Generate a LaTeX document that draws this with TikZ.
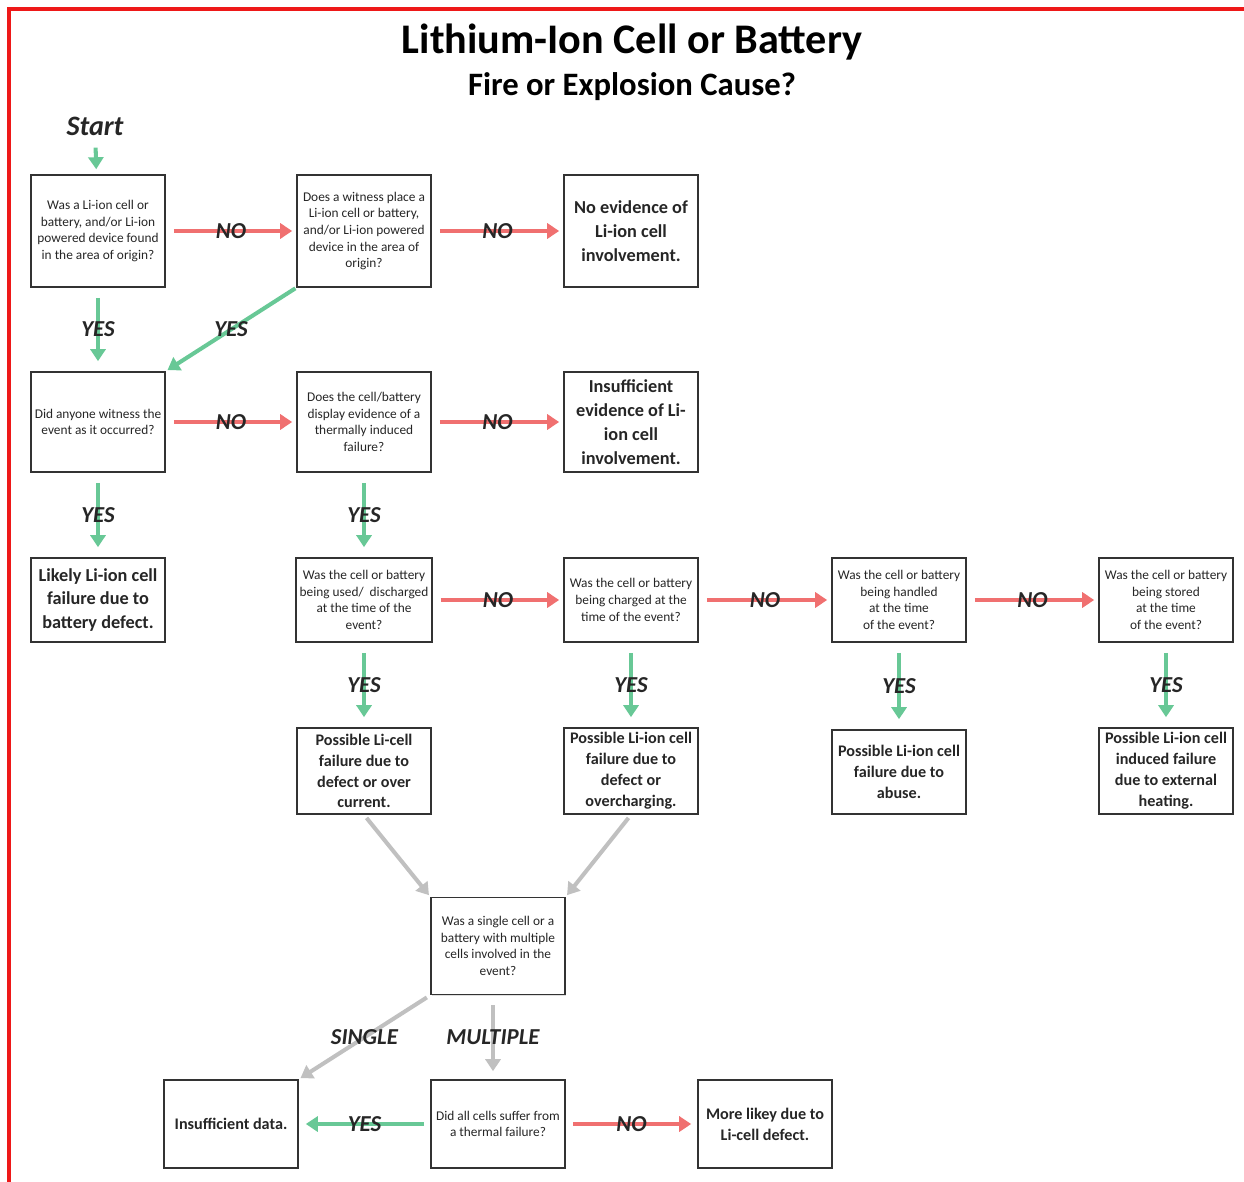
\documentclass[tikz,border=0pt]{standalone}
\usepackage{fontspec}
\setmainfont{Carlito}
\usetikzlibrary{arrows.meta,shadows}
\definecolor{noRed}{RGB}{240,112,112}
\definecolor{yesGreen}{RGB}{104,200,150}
\definecolor{linkGray}{RGB}{192,192,192}
\definecolor{frameRed}{RGB}{238,24,24}

\begin{document}
\begin{tikzpicture}[x=0.02cm,y=-0.02cm]

	\def \boxw{2.68cm}
	\tikzstyle{q-node}=[draw=black!80,line width=0.9pt,fill=white,align=center,minimum width=\boxw,inner sep=2pt,text=black!85,font=\fontsize{7.6}{9.5}\selectfont,drop shadow={opacity=0.25,shadow xshift=0.8pt,shadow yshift=-0.8pt}]
	\tikzstyle{r-node}=[q-node,font=\fontsize{9.2}{11.9}\selectfont\bfseries]
	\tikzstyle{big-r-node}=[q-node,font=\fontsize{10.4}{13.6}\selectfont\bfseries]
	\tikzstyle{annot}=[font=\fontsize{13}{13}\selectfont\bfseries\itshape,text=black!85,inner sep=0pt]
	\tikzstyle{tip}=[-{Triangle[width=0.3cm,length=0.24cm]},line width=2.3pt]
	\tikzstyle{no-arrow}=[tip,noRed,shorten <=0.16cm,shorten >=0.08cm]
	\tikzstyle{yes-arrow}=[tip,yesGreen,shorten <=0.2cm,shorten >=0.2cm]
	\tikzstyle{link-arrow}=[tip,linkGray,shorten <=0.08cm,shorten >=0.04cm]

	\useasboundingbox (0,0) rectangle (1244,1182);
	\draw[frameRed,line width=1.8pt] (9,1182) -- (9,9) -- (1244,9);

	% title
	\node[font=\fontsize{24}{28}\selectfont\bfseries] (title) at (632,42) {Lithium-Ion Cell or Battery};
	\node[font=\fontsize{18.6}{22}\selectfont\bfseries] (subtitle) at (632,87) {Fire or Explosion Cause?};
	\node[annot,font=\fontsize{16}{16}\selectfont\bfseries\itshape] (start) at (95,126) {Start};

	% first row
	\node[q-node,minimum height=2.24cm] (found) at (98,231) {Was a Li-ion cell or\\battery, and/or Li-ion\\powered device found\\in the area of origin?};
	\node[q-node,minimum height=2.24cm] (place) at (364,231) {Does a witness place a\\Li-ion cell or battery,\\and/or Li-ion powered\\device in the area of\\origin?};
	\node[big-r-node,minimum height=2.24cm] (noev) at (631,231) {No evidence of\\Li-ion cell\\involvement.};

	% second row
	\node[q-node,minimum height=2.0cm] (witness) at (98,422) {Did anyone witness the\\event as it occurred?};
	\node[q-node,minimum height=2.0cm] (thermal) at (364,422) {Does the cell/battery\\display evidence of a\\thermally induced\\failure?};
	\node[big-r-node,minimum height=2.0cm] (insuf) at (631,422) {Insufficient\\evidence of Li-\\ion cell\\involvement.};

	% third row
	\node[big-r-node,minimum height=1.68cm] (likely) at (98,600) {Likely Li-ion cell\\failure due to\\battery defect.};
	\node[q-node,minimum height=1.68cm] (used) at (364,600) {Was the cell or battery\\being used/\ \ discharged\\at the time of the\\event?};
	\node[q-node,minimum height=1.68cm] (charged) at (631,600) {Was the cell or battery\\being charged at the\\time of the event?};
	\node[q-node,minimum height=1.68cm] (handled) at (899,600) {Was the cell or battery\\being handled\\at the time\\of the event?};
	\node[q-node,minimum height=1.68cm] (stored) at (1166,600) {Was the cell or battery\\being stored\\at the time\\of the event?};

	% fourth row
	\node[r-node,minimum height=1.72cm] (usedres) at (364,771) {Possible Li-cell\\failure due to\\defect or over\\current.};
	\node[r-node,minimum height=1.72cm] (chargedres) at (631,771) {Possible Li-ion cell\\failure due to\\defect or\\overcharging.};
	\node[r-node,minimum height=1.68cm] (handledres) at (899,772) {Possible Li-ion cell\\failure due to\\abuse.};
	\node[r-node,minimum height=1.72cm] (storedres) at (1166,771) {Possible Li-ion cell\\induced failure\\due to external\\heating.};

	% bottom
	\node[q-node,minimum height=1.94cm] (cells) at (498,946) {Was a single cell or a\\battery with multiple\\cells involved in the\\event?};
	\node[r-node,minimum height=1.76cm] (nodata) at (231,1124) {Insufficient data.};
	\node[q-node,minimum height=1.76cm] (allcells) at (498,1124) {Did all cells suffer from\\a thermal failure?};
	\node[r-node,minimum height=1.76cm] (defect) at (765,1124) {More likey due to\\Li-cell defect.};

	% arrows
	\draw[yes-arrow,shorten <=0.24cm,shorten >=0.1cm] (start) -- (found);
	\draw[no-arrow] (found) -- node[annot] {NO} (place);
	\draw[no-arrow] (place) -- node[annot] {NO} (noev);
	\draw[yes-arrow] (found) -- node[annot] {YES} (witness);
	\draw[yes-arrow,shorten <=0.02cm,shorten >=0.04cm] (place.south west) -- node[annot] {YES} (witness.north east);
	\draw[no-arrow] (witness) -- node[annot] {NO} (thermal);
	\draw[no-arrow] (thermal) -- node[annot] {NO} (insuf);
	\draw[yes-arrow] (witness) -- node[annot] {YES} (likely);
	\draw[yes-arrow] (thermal) -- node[annot] {YES} (used);
	\draw[no-arrow] (used) -- node[annot] {NO} (charged);
	\draw[no-arrow] (charged) -- node[annot] {NO} (handled);
	\draw[no-arrow] (handled) -- node[annot] {NO} (stored);
	\draw[yes-arrow] (used) -- node[annot] {YES} (usedres);
	\draw[yes-arrow] (charged) -- node[annot] {YES} (chargedres);
	\draw[yes-arrow] (handled) -- node[annot] {YES} (handledres);
	\draw[yes-arrow] (stored) -- node[annot] {YES} (storedres);
	\draw[link-arrow] (usedres.south) -- (cells.north west);
	\draw[link-arrow] (chargedres.south) -- (cells.north east);
	\draw[link-arrow] (cells.south west) -- node[annot] {SINGLE} (nodata.north east);
	\draw[link-arrow,shorten <=0.2cm,shorten >=0.16cm] ([xshift=-0.1cm]cells.south) -- node[annot] {MULTIPLE} ([xshift=-0.1cm]allcells.north);
	\draw[yes-arrow,shorten <=0.12cm,shorten >=0.14cm] (allcells) -- node[annot] {YES} (nodata);
	\draw[no-arrow,shorten <=0.14cm,shorten >=0.12cm] (allcells) -- node[annot] {NO} (defect);
\end{tikzpicture}
\end{document}
